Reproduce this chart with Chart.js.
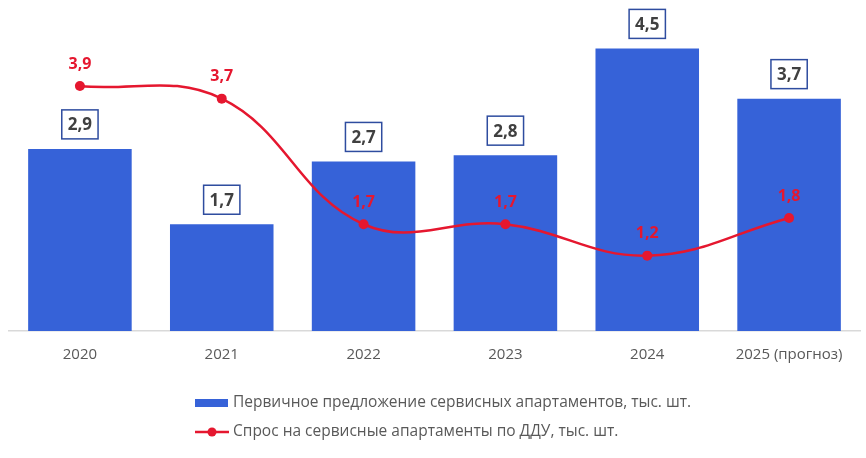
<!DOCTYPE html>
<html>
<head>
<meta charset="utf-8">
<script src="https://cdn.jsdelivr.net/npm/chart.js@4.4.1/dist/chart.umd.min.js"></script>
<style>
  html,body{margin:0;padding:0;background:#fff;}
  #wrap{width:866px;height:458px;position:relative;}
</style>
</head>
<body>
<div id="wrap"><canvas id="c" width="866" height="458"></canvas></div>
<script>
const categories = ['2020', '2021', '2022', '2023', '2024', '2025 (прогноз)'];
const supplyValues = [2.9, 1.7, 2.7, 2.8, 4.5, 3.7];
const demandValues = [3.9, 3.7, 1.7, 1.7, 1.2, 1.8];
const supplyLabel = 'Первичное предложение сервисных апартаментов, тыс. шт.';
const demandLabel = 'Спрос на сервисные апартаменты по ДДУ, тыс. шт.';

const BAR_COLOR = '#3662D8';
const LINE_COLOR = '#E5172F';
const FONT = "'Open Sans', 'Noto Sans', sans-serif";

function fmt(v){ return v.toFixed(1).replace('.', ','); }

const labelPlugin = {
  id: 'valueLabels',
  afterDatasetsDraw(chart){
    const ctx = chart.ctx;
    ctx.save();
    const barMeta = chart.getDatasetMeta(1);
    ctx.font = "bold 17px " + FONT;
    ctx.textAlign = 'center';
    ctx.textBaseline = 'middle';
    barMeta.data.forEach((el, i) => {
      const txt = fmt(supplyValues[i]);
      const w = ctx.measureText(txt).width + 12;
      const h = 29;
      const cx = el.x;
      const bottom = el.y - 10;
      ctx.fillStyle = '#fff';
      ctx.fillRect(cx - w/2, bottom - h, w, h);
      ctx.strokeStyle = '#2E4C9F';
      ctx.lineWidth = 1.5;
      ctx.strokeRect(cx - w/2, bottom - h, w, h);
      ctx.fillStyle = '#404040';
      ctx.fillText(txt, cx, bottom - h/2 + 1);
    });
    const lineMeta = chart.getDatasetMeta(0);
    ctx.font = "bold 16px " + FONT;
    ctx.fillStyle = LINE_COLOR;
    lineMeta.data.forEach((el, i) => {
      ctx.fillText(fmt(demandValues[i]), el.x, el.y - 22);
    });
    ctx.restore();
  },
  afterDraw(chart){
    const ctx = chart.ctx;
    ctx.save();
    ctx.font = "15.5px " + FONT;
    ctx.textBaseline = 'middle';
    ctx.textAlign = 'left';
    const x0 = 195, y1 = 403, y2 = 432;
    ctx.fillStyle = BAR_COLOR;
    ctx.fillRect(x0, y1 - 4, 33, 8);
    ctx.fillStyle = '#595959';
    ctx.fillText(supplyLabel, x0 + 38, y1);
    ctx.strokeStyle = LINE_COLOR;
    ctx.lineWidth = 2.5;
    ctx.beginPath();
    ctx.moveTo(x0, y2);
    ctx.lineTo(x0 + 34, y2);
    ctx.stroke();
    ctx.fillStyle = LINE_COLOR;
    ctx.beginPath();
    ctx.arc(x0 + 17, y2, 4.5, 0, Math.PI * 2);
    ctx.fill();
    ctx.fillStyle = '#595959';
    ctx.fillText(demandLabel, x0 + 38, y2);
    ctx.restore();
  }
};

new Chart(document.getElementById('c'), {
  data: {
    labels: categories,
    datasets: [
      {
        type: 'line',
        label: demandLabel,
        data: demandValues,
        borderColor: LINE_COLOR,
        backgroundColor: LINE_COLOR,
        borderWidth: 2.5,
        pointRadius: 5,
        pointBackgroundColor: LINE_COLOR,
        pointBorderWidth: 0,
        tension: 0.4,
        order: 0
      },
      {
        type: 'bar',
        label: supplyLabel,
        data: supplyValues,
        backgroundColor: BAR_COLOR,
        borderWidth: 0,
        barPercentage: 0.73,
        categoryPercentage: 1.0,
        order: 1
      }
    ]
  },
  options: {
    responsive: false,
    animation: false,
    devicePixelRatio: 1,
    layout: { padding: { top: 17, left: 9, right: 6, bottom: 87 } },
    plugins: {
      legend: { display: false },
      tooltip: { enabled: false }
    },
    scales: {
      x: {
        grid: { display: false },
        border: { display: true, color: '#D9D9D9', width: 1.5 },
        ticks: {
          color: '#595959',
          font: { family: FONT, size: 15 },
          padding: 7,
          maxRotation: 0
        }
      },
      y: {
        display: false,
        min: 0,
        max: 5
      }
    }
  },
  plugins: [labelPlugin]
});
</script>
</body>
</html>
